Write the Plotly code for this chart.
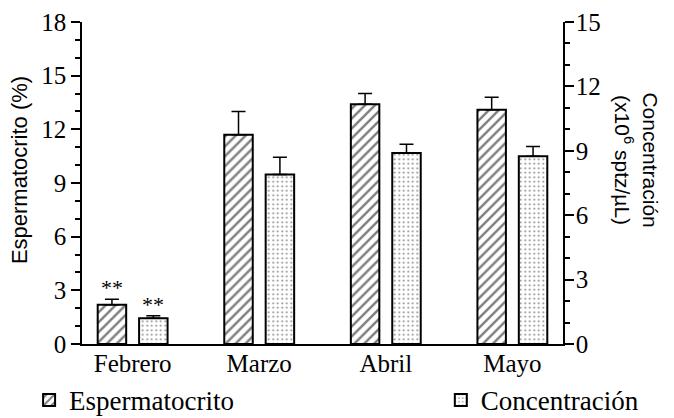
import plotly.graph_objects as go

months = ["Febrero", "Marzo", "Abril", "Mayo"]
esperm = [2.2, 11.7, 13.4, 13.1]
esperm_err = [0.3, 1.3, 0.6, 0.7]
conc = [1.2, 7.9, 8.9, 8.75]
conc_err = [0.12, 0.8, 0.4, 0.45]
sig_esperm = ["**", "", "", ""]
sig_conc = ["**", "", "", ""]

SERIF = "Liberation Serif"
SANS = "Liberation Sans"

fig = go.Figure()
fig.add_trace(go.Bar(
    x=months, y=esperm, name="Espermatocrito",
    width=0.225, offset=-0.276, legend="legend",
    marker=dict(color="white", line=dict(color="black", width=2),
                pattern=dict(shape="/", fgcolor="black", bgcolor="white", size=7, solidity=0.35)),
    error_y=dict(type="data", array=esperm_err, arrayminus=[0]*4, symmetric=False,
                 color="black", thickness=1.5, width=7),
    yaxis="y",
))
fig.add_trace(go.Bar(
    x=months, y=conc, name="Concentración",
    width=0.225, offset=0.051, legend="legend2",
    marker=dict(color="white", line=dict(color="black", width=2),
                pattern=dict(shape=".", fgcolor="black", bgcolor="white", size=4.5, solidity=0.15)),
    error_y=dict(type="data", array=conc_err, arrayminus=[0]*4, symmetric=False,
                 color="black", thickness=1.5, width=7),
    yaxis="y2",
))

for m, v, e, s in zip(months, esperm, esperm_err, sig_esperm):
    if s:
        fig.add_annotation(x=m, y=v + e, xref="x", yref="y", text=s, showarrow=False,
                           xshift=-20.7, yanchor="bottom", yshift=-3,
                           font=dict(family=SERIF, size=22, color="black"))
for m, v, e, s in zip(months, conc, conc_err, sig_conc):
    if s:
        fig.add_annotation(x=m, y=v + e, xref="x", yref="y2", text=s, showarrow=False,
                           xshift=20.7, yanchor="bottom", yshift=-3,
                           font=dict(family=SERIF, size=22, color="black"))

fig.add_annotation(text="Espermatocrito (%)", textangle=-90,
                   xref="paper", yref="paper", x=-0.131, y=0.540,
                   xanchor="center", yanchor="middle", showarrow=False,
                   font=dict(family=SANS, size=22, color="black"))
fig.add_annotation(text="Concentración<br>(x10<sup>6</sup> sptz/µL)", textangle=90,
                   xref="paper", yref="paper", x=1.152, y=0.573,
                   xanchor="center", yanchor="middle", showarrow=False,
                   font=dict(family=SANS, size=21, color="black"))

axis_common = dict(showgrid=False, zeroline=False, showline=True, linecolor="black",
                   linewidth=1.5, ticks="outside", ticklen=9, tickwidth=1.5,
                   tickcolor="black", tickfont=dict(family=SERIF, size=25, color="black"))

legend_common = dict(orientation="h", yanchor="middle", xanchor="left", y=-0.175,
                     font=dict(family=SERIF, size=27, color="black"),
                     bgcolor="rgba(0,0,0,0)")

fig.update_layout(
    width=674, height=418,
    margin=dict(l=82, r=111, t=22, b=74, autoexpand=False),
    paper_bgcolor="white", plot_bgcolor="white",
    barmode="overlay",
    showlegend=True,
    legend=dict(x=-0.11, **legend_common),
    legend2=dict(x=0.746, **legend_common),
    xaxis=dict(range=[-0.4, 3.4], showgrid=False, zeroline=False, showline=True,
               linecolor="black", linewidth=1.5, ticks="", ticklabelstandoff=-4,
               tickfont=dict(family=SERIF, size=25, color="black")),
    yaxis=dict(range=[0, 18], tick0=0, dtick=3, side="left",
               minor=dict(dtick=1, ticks="outside", ticklen=5, tickwidth=1.5, tickcolor="black"),
               **axis_common),
    yaxis2=dict(range=[0, 15], tick0=0, dtick=3, side="right", overlaying="y", anchor="x",
                minor=dict(dtick=1, ticks="outside", ticklen=5, tickwidth=1.5, tickcolor="black"),
                ticklabelstandoff=-3,
                **axis_common),
)

fig.write_html("out.html", config={"displayModeBar": False},
               post_script="document.body.style.margin='0px';")
